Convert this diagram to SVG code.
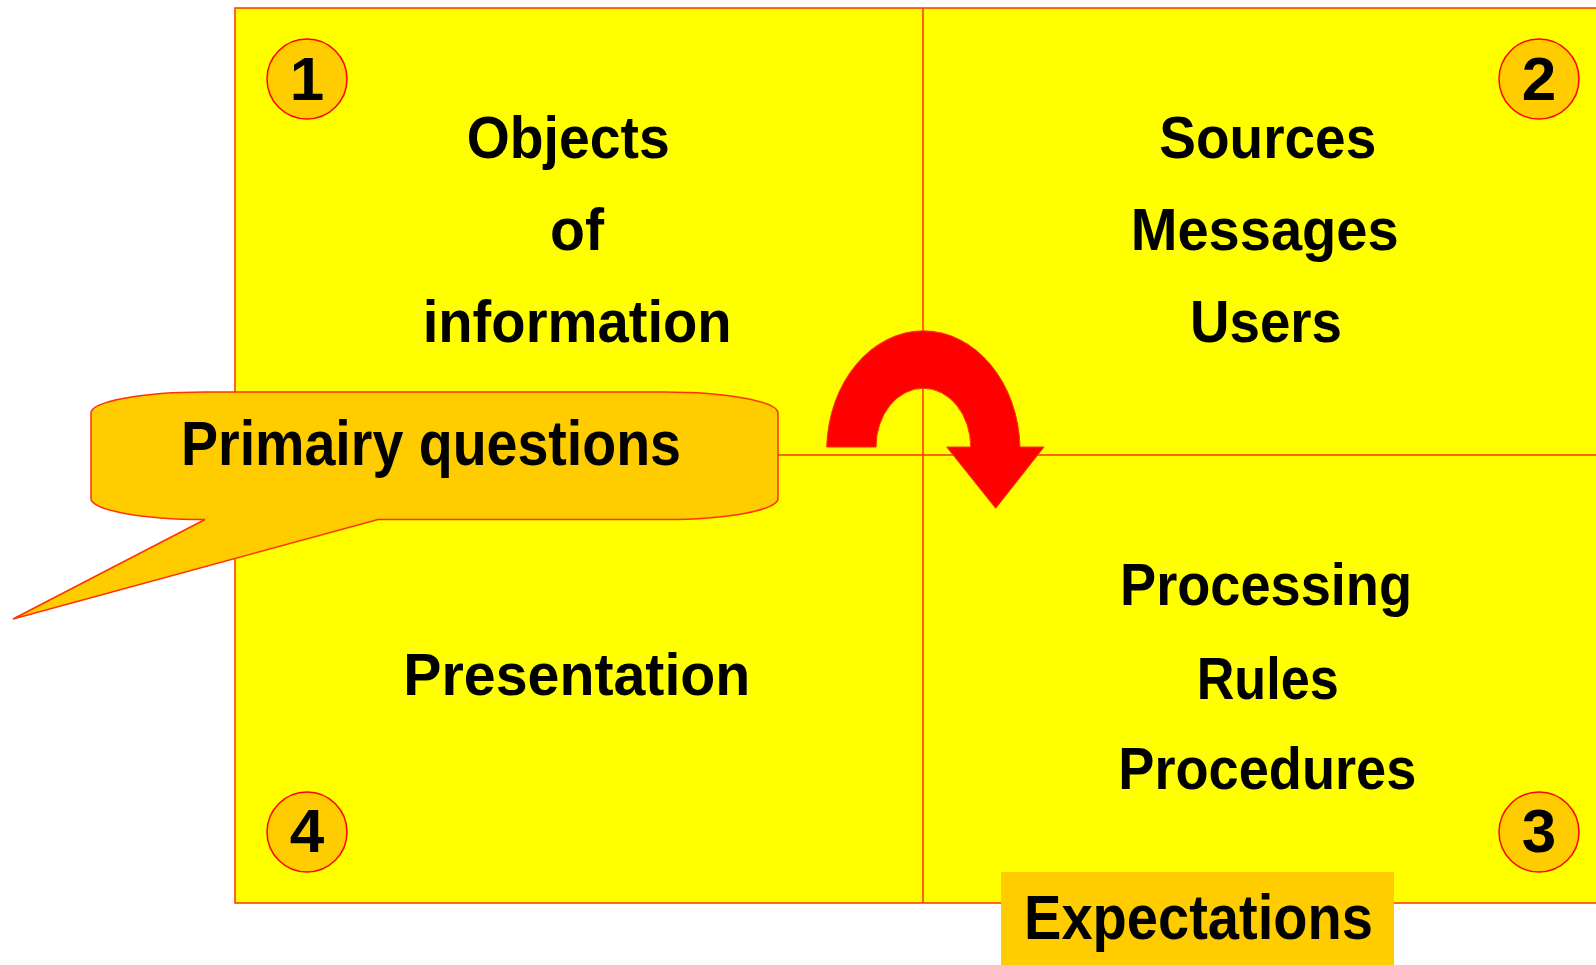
<svg xmlns="http://www.w3.org/2000/svg" width="1596" height="965" viewBox="0 0 1596 965">
<style>
.t{font-family:"Liberation Sans",Arial,sans-serif;font-weight:bold;font-size:59px;fill:#000}
.big{font-size:63px}
.num{font-family:"Liberation Sans",Arial,sans-serif;font-weight:bold;font-size:62px;fill:#000;text-anchor:middle}
.badge{fill:#FFCC00;stroke:#FF0000;stroke-width:1.5}
.line{stroke:#FF3300;stroke-width:1.5;fill:none}
</style>
<rect x="0" y="0" width="1596" height="965" fill="#FFFFFF"/>
<g id="grid">
<rect x="235" y="8" width="1370" height="895" fill="#FFFF00" stroke="#FF3300" stroke-width="1.5"/>
</g>
<g id="connectors">
<line class="line" x1="923" y1="8" x2="923" y2="903"/>
<line class="line" x1="235" y1="455" x2="1600" y2="455"/>
<path d="M 826.7,447 A 96.7 120 0 0 1 1020,447 L 1044,447 L 995.7,508.3 L 946.7,447 L 970.7,447 A 47.3 58.7 0 0 0 876,447 Z" fill="#FF0000" stroke="#FF3300" stroke-width="1"/>
</g>
<g id="q1">
<text class="t" x="466.7" y="158" textLength="203" lengthAdjust="spacingAndGlyphs">Objects</text>
<text class="t" x="550" y="250" textLength="54" lengthAdjust="spacingAndGlyphs">of</text>
<text class="t" x="422.7" y="342" textLength="309" lengthAdjust="spacingAndGlyphs">information</text>
</g>
<g id="q2">
<text class="t" x="1159.3" y="158" textLength="217" lengthAdjust="spacingAndGlyphs">Sources</text>
<text class="t" x="1130.7" y="250" textLength="268" lengthAdjust="spacingAndGlyphs">Messages</text>
<text class="t" x="1190" y="342" textLength="152" lengthAdjust="spacingAndGlyphs">Users</text>
</g>
<g id="q3">
<text class="t" x="1120" y="605" textLength="292" lengthAdjust="spacingAndGlyphs">Processing</text>
<text class="t" x="1196.7" y="699" textLength="142" lengthAdjust="spacingAndGlyphs">Rules</text>
<text class="t" x="1118.3" y="789" textLength="298" lengthAdjust="spacingAndGlyphs">Procedures</text>
</g>
<g id="q4">
<text class="t" x="403.3" y="695" textLength="347" lengthAdjust="spacingAndGlyphs">Presentation</text>
</g>
<g id="badge1">
<circle class="badge" cx="307" cy="79" r="40"/>
<text class="num" x="307" y="100">1</text>
</g>
<g id="badge2">
<circle class="badge" cx="1539" cy="79" r="40"/>
<text class="num" x="1539" y="100">2</text>
</g>
<g id="badge3">
<circle class="badge" cx="1539" cy="832" r="40"/>
<text class="num" x="1539" y="852">3</text>
</g>
<g id="badge4">
<circle class="badge" cx="307" cy="832" r="40"/>
<text class="num" x="307" y="852">4</text>
</g>
<g id="callout">
<path d="M 91,413 A 114 21 0 0 1 205,392 L 664,392 A 114 21 0 0 1 778,413 L 778,498 A 114 21 0 0 1 664,519.5 L 378,519.5 L 13,619 L 205,519.5 A 114 21 0 0 1 91,498 Z" fill="#FFCC00" stroke="#FF3300" stroke-width="1.5"/>
<text class="t big" x="181" y="465" textLength="500" lengthAdjust="spacingAndGlyphs">Primairy questions</text>
</g>
<g id="expectations">
<rect x="1001" y="872" width="393" height="93" fill="#FFCC00"/>
<text class="t big" x="1024" y="939" textLength="349" lengthAdjust="spacingAndGlyphs">Expectations</text>
</g>
</svg>
